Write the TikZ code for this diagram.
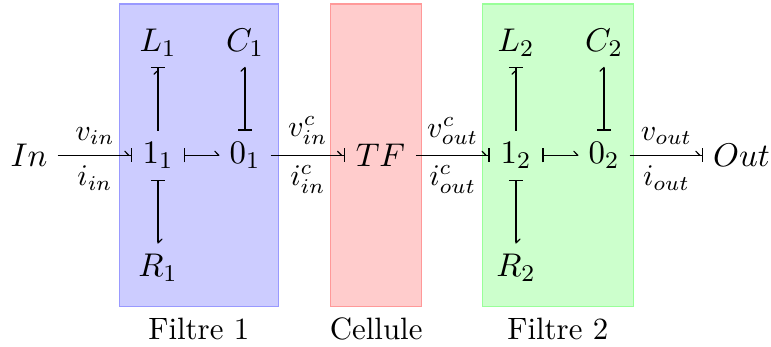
\documentclass[tikz,border=0pt]{standalone}
\usetikzlibrary{arrows.meta}
\tikzset{
  x=1pt/3, y=-1pt/3, line width=0.4pt,
  panel/.style={inner sep=0pt, line width=0.4pt},
  bluepanel/.style={panel, fill=blue!20, draw=blue!40},
  redpanel/.style={panel, fill=red!20, draw=red!40},
  greenpanel/.style={panel, fill=green!20, draw=green!40},
  big/.style={font=\fontsize{10.95}{13}\selectfont},
  caption/.style={below, font=\fontsize{10.3}{12}\selectfont},
  junction/.style={big, minimum width=50pt/3, minimum height=48pt/3, inner sep=0pt},
  element/.style={big, minimum height=47pt/3, inner sep=0pt},
  barb/.tip={Straight Barb[left,length=1.3pt,width=2.7pt,line width=0.4pt,round,sep=0pt]},
  stop/.tip={Bar[width=4.8pt,line width=0.4pt,sep=0pt]},
  link/.tip={Rectangle[length=0.6pt,width=0.4pt,sep=0pt]},
  effortend/.style={-{barb[]link[]stop[]}},
  effortstart/.style={{stop[]}-{barb[]}},
  vlab/.style={midway,above},
  ilab/.style={midway,below}
}
\begin{document}
\begin{tikzpicture}
\useasboundingbox (0,0) rectangle (771,347);
\node[bluepanel, minimum width=159pt/3, minimum height=302.7pt/3] (fa) at (198.8,155.3) {};
\node[redpanel, minimum width=91pt/3, minimum height=302.7pt/3] (fb) at (376.2,155.3) {};
\node[greenpanel, minimum width=151pt/3, minimum height=302.7pt/3] (fc) at (557.8,155.3) {};
\node[caption] (ta) at (fa.south) {Filtre 1};
\node[caption] (tb) at (fb.south) {Cellule};
\node[caption] (tc) at (fc.south) {Filtre 2};

\node[element, minimum width=56pt/3] (in) at (29,155.3) {$In$};
\node[junction] (u1) at (158,155.3) {$1_1$};
\node[junction] (z1) at (245,155.3) {$0_1$};
\node[junction, minimum width=69.6pt/3] (tf) at (380.5,155.3) {$TF$};
\node[junction, minimum width=51.6pt/3] (u2) at (516,155.3) {$1_2$};
\node[junction] (z2) at (604,155.3) {$0_2$};
\node[element, minimum width=75pt/3] (out) at (741.5,155.3) {$Out$};

\node[element] (l1) at (158,42.7) {$L_1$};
\node[element] (c1) at (245,42.7) {$C_1$};
\node[element] (r1) at (158,267.7) {$R_1$};
\node[element] (l2) at (516,42.7) {$L_2$};
\node[element] (c2) at (604,42.7) {$C_2$};
\node[element] (r2) at (516,267.7) {$R_2$};

\draw[effortend] (in) -- (u1) node[vlab] {$v_{in}$} node[ilab] {$i_{in}$};
\draw[effortstart] (u1) -- (z1);
\draw[effortend] (z1) -- (tf) node[vlab] {$v^c_{in}$} node[ilab] {$i^c_{in}$};
\draw[effortend] (tf) -- (u2) node[vlab] {$v^c_{out}$} node[ilab] {$i^c_{out}$};
\draw[effortstart] (u2) -- (z2);
\draw[effortend] (z2) -- (out) node[vlab] {$v_{out}$} node[ilab] {$i_{out}$};
\draw[effortend] (u1) -- (l1);
\draw[effortstart] (z1) -- (c1);
\draw[effortstart] (u1) -- (r1);
\draw[effortend] (u2) -- (l2);
\draw[effortstart] (z2) -- (c2);
\draw[effortstart] (u2) -- (r2);
\end{tikzpicture}
\end{document}
